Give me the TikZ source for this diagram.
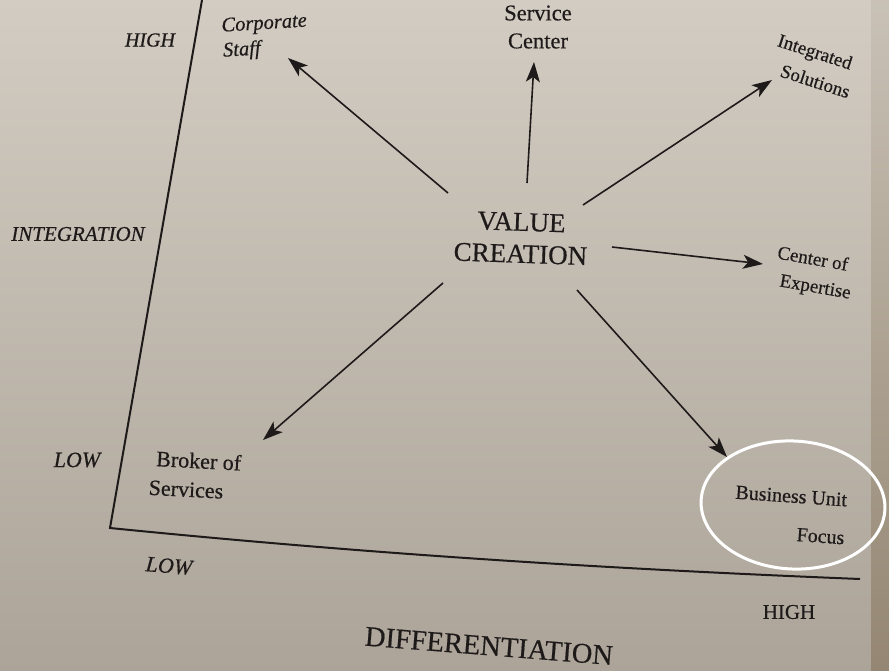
\documentclass[tikz,border=0pt]{standalone}
\usepackage{fontspec}
\setmainfont{Liberation Serif}[FakeBold=0.5]
\usetikzlibrary{arrows.meta,shapes.geometric}
\definecolor{ink}{RGB}{30,26,26}
\definecolor{paperlight}{RGB}{210,204,194}
\definecolor{paperdark}{RGB}{172,164,153}
\definecolor{pageedge}{RGB}{148,134,114}
\tikzset{
  lbl/.style={text=ink, inner sep=0pt, align=left},
  ax/.style={text=ink, inner sep=0pt, font=\fontsize{20}{24}\selectfont\itshape},
  conn/.style={draw=ink, line width=1.6pt, -{Stealth[length=20pt,width=14pt,inset=5pt]}},
  axisline/.style={draw=ink, line width=2pt, line join=miter}
}
\begin{document}
\begin{tikzpicture}[x=1pt,y=-1pt]
\shade[top color=paperlight, bottom color=paperdark] (0,0) rectangle (889,671);
\shade[top color=paperlight!85!pageedge, bottom color=pageedge] (871,0) rectangle (889,671);
\useasboundingbox (0,0) rectangle (889,671);

% axes
\coordinate (ytop) at (202,0);
\coordinate (orig) at (110,528);
\coordinate (xend) at (860,579);
\draw[axisline] (ytop) -- (orig) .. controls (330,550) and (560,567) .. (xend);

% axis labels
\node[ax] (yhigh) at (150,40) {HIGH};
\node[ax, font=\fontsize{21}{24}\selectfont\itshape] (ylab) at (78,234) {INTEGRATION};
\node[ax, font=\fontsize{22}{24}\selectfont\itshape] (ylow) at (77,460) {LOW};
\node[ax, font=\fontsize{22}{24}\selectfont\itshape, rotate=-5] (xlow) at (169,566) {LOW};
\node[lbl, font=\fontsize{21}{24}\selectfont] (xhigh) at (789,612) {HIGH};
\node[lbl, font=\fontsize{28.5}{30}\selectfont, rotate=-4.5] (xlab) at (489,646) {DIFFERENTIATION};

% centre
\node[lbl, align=center, font=\fontsize{27}{32}\selectfont, rotate=-2] (vc) at (521,238) {VALUE\\CREATION};

% outcomes
\node[lbl, font=\fontsize{20.5}{25}\selectfont\itshape, rotate=3.5] (corp) at (265,37) {Corporate\\Staff};
\node[lbl, align=center, font=\fontsize{22.5}{28}\selectfont] (serv) at (538,27) {Service\\Center};
\node[lbl, font=\fontsize{19}{28}\selectfont, rotate=-18] (integ) at (814,66) {Integrated\\\hspace*{12pt}Solutions};
\node[lbl, font=\fontsize{19}{27}\selectfont, rotate=-10] (coe) at (814,274) {Center of\\\hspace*{7pt}Expertise};
\node[lbl, font=\fontsize{22}{29}\selectfont, rotate=-3] (brok) at (195,475) {\hspace*{6pt}Broker of\\Services};
\node[lbl, align=right, font=\fontsize{20}{38}\selectfont, rotate=-4] (bu) at (790,515) {Business Unit\\Focus};
\node[draw=white, line width=3pt, ellipse, minimum width=184pt, minimum height=128pt, rotate=-3] (ring) at (793,505) {};

% connector ends
\coordinate (t1) at (448,193); \coordinate (h1) at (288,58);
\coordinate (t2) at (527,183); \coordinate (h2) at (534,62);
\coordinate (t3) at (583,205); \coordinate (h3) at (772,80);
\coordinate (t4) at (612,247); \coordinate (h4) at (763,264);
\coordinate (t5) at (443,283); \coordinate (h5) at (263,440);
\coordinate (t6) at (577,290); \coordinate (h6) at (727,457);

\draw[conn] (t1) -- (h1);
\draw[conn] (t2) -- (h2);
\draw[conn] (t3) -- (h3);
\draw[conn] (t4) -- (h4);
\draw[conn] (t5) -- (h5);
\draw[conn] (t6) -- (h6);
\end{tikzpicture}
\end{document}
